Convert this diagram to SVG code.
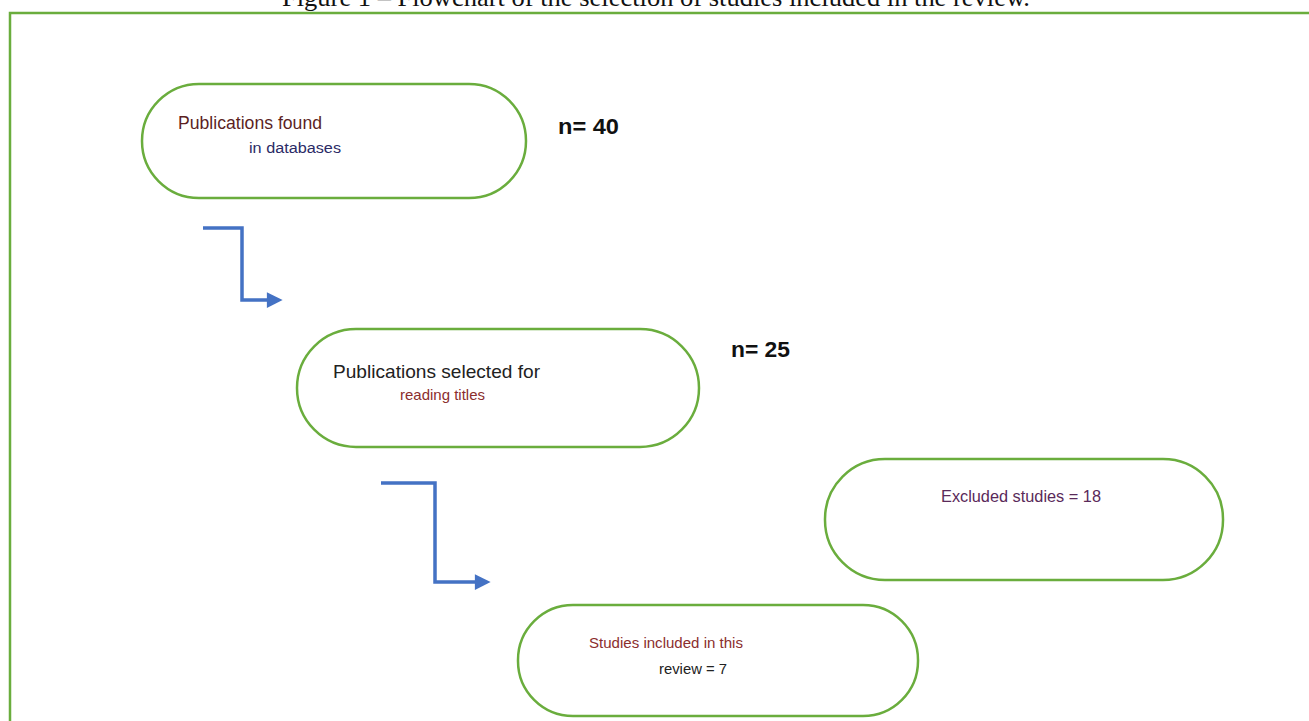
<svg xmlns="http://www.w3.org/2000/svg" width="1309" height="721" viewBox="0 0 1309 721">
<defs>
<style>
.node{fill:#fff;stroke:#6aad3d;stroke-width:2.5}
.t{font-family:"Liberation Sans",Arial,sans-serif}
.n{font-family:"Liberation Sans",Arial,sans-serif;font-weight:bold;font-size:22px;fill:#111}
.conn{fill:none;stroke:#4472c4;stroke-width:3.5}
</style>
<marker id="arr" viewBox="0 0 10 10" refX="2" refY="5" markerWidth="5" markerHeight="4.5" orient="auto" markerUnits="strokeWidth">
<path d="M0,0 L10,5 L0,10 Z" fill="#4472c4"/>
</marker>
</defs>
<rect width="1309" height="721" fill="#fff"/>
<text x="656" y="6" text-anchor="middle" font-family="'Liberation Serif','Times New Roman',serif" font-size="26" textLength="748" lengthAdjust="spacingAndGlyphs" fill="#111">Figure 1 – Flowchart of the selection of studies included in the review.</text>
<path d="M1309,13 H10 V721" fill="none" stroke="#6aad3d" stroke-width="2.5"/>
<g id="connectors">
<path class="conn" d="M203,228 H242 V300 H270" marker-end="url(#arr)"/>
<path class="conn" d="M381,483 H435 V582 H478" marker-end="url(#arr)"/>
</g>
<g id="node1">
<rect class="node" x="142" y="84" width="384" height="114" rx="57"/>
<text class="t" x="178" y="129" font-size="17.5" textLength="144" lengthAdjust="spacingAndGlyphs" fill="#5c1f1f">Publications found</text>
<text class="t" x="249" y="153" font-size="15.5" textLength="92" lengthAdjust="spacingAndGlyphs" fill="#2b2b66">in databases</text>
<text class="n" x="558" y="134" textLength="61" lengthAdjust="spacingAndGlyphs">n= 40</text>
</g>
<g id="node2">
<rect class="node" x="297" y="329" width="402" height="118" rx="59"/>
<text class="t" x="333" y="378" font-size="18.5" textLength="207" lengthAdjust="spacingAndGlyphs" fill="#222">Publications selected for</text>
<text class="t" x="400" y="400" font-size="15" textLength="85" lengthAdjust="spacingAndGlyphs" fill="#8b2e2e">reading titles</text>
<text class="n" x="731" y="357" textLength="59" lengthAdjust="spacingAndGlyphs">n= 25</text>
</g>
<g id="node3">
<rect class="node" x="825" y="459" width="398" height="121" rx="60"/>
<text class="t" x="941" y="502" font-size="16" textLength="160" lengthAdjust="spacingAndGlyphs" fill="#5a2a5a">Excluded studies = 18</text>
</g>
<g id="node4">
<rect class="node" x="518" y="605" width="400" height="111" rx="55"/>
<text class="t" x="589" y="648" font-size="15" textLength="154" lengthAdjust="spacingAndGlyphs" fill="#8b2e2e">Studies included in this</text>
<text class="t" x="659" y="674" font-size="14.5" textLength="68" lengthAdjust="spacingAndGlyphs" fill="#222">review = 7</text>
</g>
</svg>
